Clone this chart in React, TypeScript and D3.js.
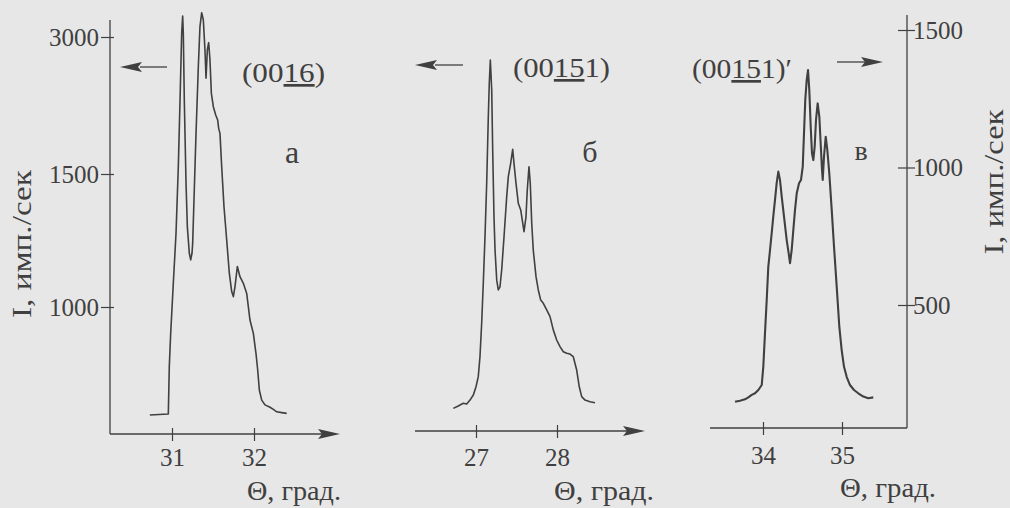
import React, { useEffect, useRef } from "react";
import * as d3 from "d3";

// (0016) reflection, panel "а": [theta, counts]
const curveA: [number, number][] = [
  [30.73, 594], [30.955, 598], [30.967, 776], [30.984, 901], [31.016, 1089], [31.049, 1277],
  [31.077, 1580], [31.098, 2310], [31.118, 3040], [31.13, 3230], [31.138, 3040], [31.15, 2310],
  [31.171, 1465], [31.187, 1302], [31.211, 1202], [31.228, 1177], [31.244, 1202], [31.252, 1239],
  [31.268, 1402], [31.293, 1945], [31.321, 2675], [31.341, 3113], [31.362, 3266], [31.382, 3186],
  [31.402, 2858], [31.415, 2548], [31.431, 2858], [31.447, 2938], [31.463, 2748], [31.48, 2383],
  [31.504, 2237], [31.533, 2146], [31.557, 2091], [31.569, 2000], [31.585, 1945], [31.606, 1580],
  [31.634, 1377], [31.667, 1252], [31.699, 1127], [31.728, 1058], [31.748, 1039], [31.768, 1076],
  [31.797, 1152], [31.829, 1114], [31.87, 1089], [31.911, 1051], [31.951, 951], [31.992, 901],
  [32.024, 826], [32.045, 763], [32.065, 688], [32.094, 650], [32.134, 632], [32.195, 623],
  [32.236, 615], [32.277, 606], [32.338, 603], [32.399, 600],
];

// (00151) reflection, panel "б"
const curveB: [number, number][] = [
  [26.72, 619], [26.781, 628], [26.843, 638], [26.885, 635], [26.926, 650], [26.967, 669],
  [27.0, 700], [27.028, 738], [27.049, 813], [27.07, 939], [27.09, 1089], [27.111, 1264],
  [27.132, 1465], [27.152, 2127], [27.164, 2493], [27.177, 2748], [27.194, 2420], [27.206, 1763],
  [27.222, 1339], [27.235, 1214], [27.256, 1101], [27.275, 1064], [27.296, 1076], [27.317, 1139],
  [27.346, 1264], [27.379, 1415], [27.399, 1490], [27.428, 1617], [27.453, 1770], [27.469, 1617],
  [27.494, 1465], [27.522, 1390], [27.552, 1365], [27.577, 1315], [27.593, 1283], [27.617, 1339],
  [27.633, 1440], [27.654, 1580], [27.67, 1465], [27.688, 1315], [27.707, 1214], [27.741, 1114],
  [27.769, 1064], [27.799, 1026], [27.831, 1014], [27.873, 989], [27.914, 964], [27.954, 914],
  [27.996, 876], [28.037, 851], [28.078, 832], [28.12, 826], [28.16, 823], [28.201, 813],
  [28.243, 763], [28.275, 700], [28.305, 663], [28.346, 650], [28.407, 644], [28.469, 640],
];

// (00151)' reflection, panel "в" (right axis)
const curveC: [number, number][] = [
  [33.646, 148], [33.709, 152], [33.772, 157], [33.814, 164], [33.857, 173], [33.899, 179],
  [33.941, 191], [33.984, 209], [34.004, 276], [34.025, 397], [34.047, 518], [34.067, 639],
  [34.089, 700], [34.11, 761], [34.13, 821], [34.152, 882], [34.173, 943], [34.194, 985],
  [34.215, 955], [34.237, 894], [34.266, 821], [34.3, 736], [34.325, 688], [34.342, 652],
  [34.363, 700], [34.384, 773], [34.405, 845], [34.427, 906], [34.456, 943], [34.481, 955],
  [34.503, 1003], [34.519, 1124], [34.535, 1245], [34.553, 1318], [34.57, 1354], [34.586, 1282],
  [34.604, 1148], [34.62, 1052], [34.637, 1027], [34.654, 1076], [34.671, 1173], [34.692, 1233],
  [34.713, 1185], [34.73, 1088], [34.747, 991], [34.756, 955], [34.772, 1039], [34.794, 1112],
  [34.814, 1064], [34.839, 979], [34.87, 845], [34.899, 712], [34.933, 567], [34.966, 421],
  [34.996, 336], [35.025, 276], [35.059, 239], [35.101, 209], [35.152, 191], [35.206, 179],
  [35.27, 167], [35.333, 161], [35.396, 164],
];

const leftTicks = [1000, 1500, 3000];
const rightTicks = [500, 1000, 1500];
const ticksA = [31, 32];
const ticksB = [27, 28];
const ticksC = [34, 35];

const W = 1010;
const H = 508;
const ink = "#404040";
const font = "Liberation Serif";

export default function App() {
  const ref = useRef<SVGSVGElement>(null);

  useEffect(() => {
    const svg = d3.select(ref.current);
    svg.selectAll("*").remove();

    svg.append("rect").attr("width", W).attr("height", H).attr("fill", "#e7e7e7");

    // scales
    const yLeft = d3.scaleLinear().domain([1000, 1500, 3000]).range([307, 174, 37]);
    const yRight = d3.scaleLinear().domain([500, 1500]).range([305, 30]);
    const xA = d3.scaleLinear().domain([31, 32]).range([172, 254]);
    const xB = d3.scaleLinear().domain([27, 28]).range([476, 557]);
    const xC = d3.scaleLinear().domain([34, 35]).range([763, 842]);

    const arrowHead = (x: number, y: number, dir: number) => {
      const len = 22, half = 5;
      svg.append("path")
        .attr("d", `M${x},${y}L${x - dir * len},${y - half}L${x - dir * (len - 4)},${y}L${x - dir * len},${y + half}Z`)
        .attr("fill", ink);
    };
    const hline = (x1: number, x2: number, y: number, w = 1.3) =>
      svg.append("line").attr("x1", x1).attr("x2", x2).attr("y1", y).attr("y2", y)
        .attr("stroke", ink).attr("stroke-width", w);
    const vline = (x: number, y1: number, y2: number, w = 1.3) =>
      svg.append("line").attr("x1", x).attr("x2", x).attr("y1", y1).attr("y2", y2)
        .attr("stroke", ink).attr("stroke-width", w);

    const styleAxis = (g: any, size: number) => {
      g.attr("font-family", font).attr("font-size", size);
      g.select(".domain").remove();
      g.selectAll(".tick line").attr("stroke", ink).attr("stroke-width", 1.2);
      g.selectAll(".tick text").attr("fill", ink).style("font-family", font).style("font-size", `${size}px`);
    };

    // panel а axes
    vline(110, 20, 434);
    hline(110, 330, 434);
    arrowHead(340, 434, 1);
    svg.append("g").attr("transform", "translate(110,0)")
      .call(d3.axisLeft(yLeft).tickValues(leftTicks).tickSize(9).tickPadding(2).tickFormat(d3.format("d")))
      .call((g: any) => styleAxis(g, 25))
      .call((g: any) => g.selectAll(".tick line").attr("x1", 4));
    svg.append("g").attr("transform", "translate(0,434)")
      .call(d3.axisBottom(xA).tickValues(ticksA).tickSize(7).tickPadding(7).tickFormat(d3.format("d")))
      .call((g: any) => styleAxis(g, 25))
      .call((g: any) => g.selectAll(".tick line").attr("y1", -6));

    // panel б axis
    hline(415, 635, 431);
    arrowHead(645, 431, 1);
    svg.append("g").attr("transform", "translate(0,431)")
      .call(d3.axisBottom(xB).tickValues(ticksB).tickSize(7).tickPadding(10).tickFormat(d3.format("d")))
      .call((g: any) => styleAxis(g, 25))
      .call((g: any) => g.selectAll(".tick line").attr("y1", -6));

    // panel в axes
    hline(710, 907, 428);
    vline(907, 15, 428);
    svg.append("g").attr("transform", "translate(907,0)")
      .call(d3.axisRight(yRight).tickValues(rightTicks).tickSize(8).tickPadding(-2).tickFormat(d3.format("d")))
      .call((g: any) => styleAxis(g, 25))
      .call((g: any) => g.selectAll(".tick line").attr("x1", -9));
    svg.append("g").attr("transform", "translate(0,428)")
      .call(d3.axisBottom(xC).tickValues(ticksC).tickSize(7).tickPadding(11).tickFormat(d3.format("d")))
      .call((g: any) => styleAxis(g, 25))
      .call((g: any) => g.selectAll(".tick line").attr("y1", -6));

    // curves
    const drawCurve = (data: [number, number][], x: any, y: any, w: number) => {
      const line = d3.line<[number, number]>().x(d => x(d[0])).y(d => y(d[1]));
      svg.append("path").datum(data).attr("d", line).attr("fill", "none")
        .attr("stroke", ink).attr("stroke-width", w).attr("stroke-linejoin", "round");
    };
    drawCurve(curveA, xA, yLeft, 1.6);
    drawCurve(curveB, xB, yLeft, 1.6);
    drawCurve(curveC, xC, yRight, 2.1);

    // texts
    const label = (x: number, y: number, size: number, len: number | null, parts: [string, boolean][], anchor = "start") => {
      const t = svg.append("text").attr("x", x).attr("y", y)
        .style("font-family", font).style("font-size", `${size}px`)
        .attr("fill", ink).attr("text-anchor", anchor);
      if (len) t.attr("textLength", len).attr("lengthAdjust", "spacingAndGlyphs");
      parts.forEach(([s, u]) => {
        const sp = t.append("tspan").text(s);
        if (u) sp.attr("text-decoration", "underline");
      });
      return t;
    };

    // reflection labels and arrows
    label(242, 82, 27, 83, [["(00", false], ["16", true], [")", false]]);
    hline(140, 167, 67, 1.3);
    arrowHead(120, 67, -1);
    label(513, 77, 27, 97, [["(00", false], ["15", true], ["1)", false]]);
    hline(435, 463, 65, 1.3);
    arrowHead(415, 65, -1);
    label(692, 78, 27, 100, [["(00", false], ["15", true], ["1)′", false]]);
    hline(837, 865, 62, 1.3);
    arrowHead(883, 62, 1);

    // panel letters
    label(292, 163, 32, null, [["а", false]], "middle");
    label(590, 162, 30, null, [["б", false]], "middle");
    label(861, 160, 28, null, [["в", false]], "middle");

    // theta labels
    label(247, 500, 27, 94, [["Θ, град.", false]]);
    label(554, 500, 27, 100, [["Θ, град.", false]]);
    label(840, 497, 27, 96, [["Θ, град.", false]]);

    // axis titles
    label(0, 0, 27, 148, [["I, имп./сек", false]], "middle")
      .attr("transform", "translate(31,244) rotate(-90)");
    label(0, 0, 27, 145, [["I, имп./сек", false]], "middle")
      .attr("transform", "translate(1003,182) rotate(-90)");
  }, []);

  return (
    <>
      <style>{`body{margin:0;background:#e7e7e7}`}</style>
      <svg ref={ref} width={W} height={H} style={{ display: "block" }} />
    </>
  );
}
